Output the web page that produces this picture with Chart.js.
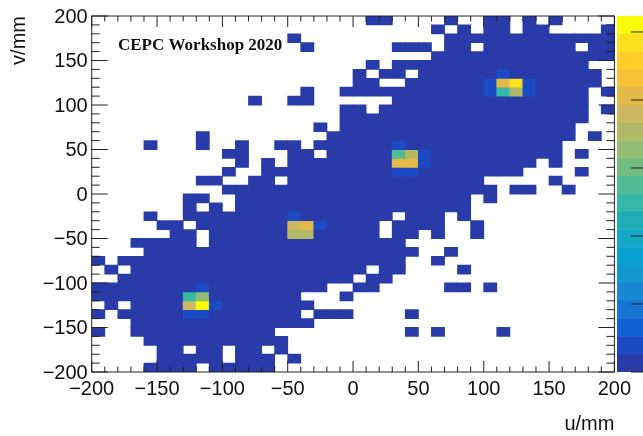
<!DOCTYPE html>
<html>
<head>
<meta charset="utf-8">
<style>
html,body{margin:0;padding:0;background:#fff;width:643px;height:436px;overflow:hidden}
canvas{position:absolute;top:0;display:block}
#main{left:0}
#bar{left:617px}
</style>
<script src="https://cdn.jsdelivr.net/npm/chart.js@4/dist/chart.umd.min.js"></script>
</head>
<body>
<canvas id="main" width="643" height="436"></canvas>
<canvas id="bar" width="26" height="436"></canvas>
<script>
// Histogram bins: 40 x 40, 10 mm wide, u from -200, v rows listed from the top (+200) down.
const uBins = Array.from({length:40},(_,i)=>-200+i*10);
const uMajor = [-200,-150,-100,-50,0,50,100,150,200];
const vMajor = [-200,-150,-100,-50,0,50,100,150,200];
const uMinor = uBins.concat([200]).filter(v=>v%50!==0);
const vMinor = uMinor;
// Occupied u-bin runs [first,last] of each v row (top row first).
const rowRuns = [
[[21,22],[27,27],[30,31],[33,33],[35,35]],
[[26,26],[28,28],[30,31],[33,34],[39,39]],
[[15,15],[27,39]],
[[16,16],[23,25],[27,28],[30,36],[38,39]],
[[26,39]],
[[21,21],[23,37]],
[[20,20],[22,23],[25,38]],
[[20,21],[24,38]],
[[16,16],[19,37],[39,39]],
[[12,12],[15,16],[23,37]],
[[19,20],[22,37],[39,39]],
[[19,37]],
[[17,17],[19,36]],
[[8,8],[18,36],[38,38]],
[[4,4],[8,8],[11,11],[14,15],[17,35]],
[[10,11],[15,16],[18,35],[37,37]],
[[11,11],[13,13],[15,33],[35,35]],
[[10,10],[13,32],[37,37]],
[[8,9],[12,13],[15,29],[35,35]],
[[10,30],[32,33],[36,36]],
[[7,8],[11,28],[30,30]],
[[7,7],[9,9],[11,28]],
[[4,4],[7,22],[24,26],[28,28]],
[[5,6],[8,21],[23,26],[29,29]],
[[6,7],[9,21],[23,24],[26,26],[29,29]],
[[3,7],[9,23]],
[[4,24],[27,27]],
[[0,0],[2,23],[26,26]],
[[1,1],[3,20],[22,23],[28,28]],
[[2,19],[21,22]],
[[0,17],[20,21],[27,28],[30,30]],
[[0,15],[19,19]],
[[1,1],[3,16]],
[[0,0],[2,15],[17,19],[24,24]],
[[3,16]],
[[0,0],[3,13],[24,24],[26,26],[31,31]],
[[4,14]],
[[5,6],[8,9],[11,12],[14,14]],
[[5,9],[11,13],[15,15]],
[[4,7],[9,13]]
];
const baseCount = 100;
// Hot spots: row index, u-bin index, count.
const hotRow = [30,31,31,32,32,32,33,33, 22,23,23,23,24,24, 14,15,15,15,16,16,16,17,17, 6,7,7,7,7,8,8,8,8];
const hotCol = [8,7,8,7,8,9,7,8, 15,15,16,17,15,16, 23,23,24,25,23,24,25,23,24, 31,30,31,32,33,30,31,32,33];
const hotCount = [400,2500,3250,3800,5200,400,400,400, 400,3800,4050,400,3500,3500, 400,2750,3500,400,4050,4050,400,400,400, 400,400,4050,4850,400,400,2500,3500,400];
// Colour bar
const zMax = 5235;
const zTicks = [0,1000,2000,3000,4000,5000];
const palette = ['#283ba8','#1a4bc4','#1060d8','#1675d2','#1a87d2','#1297cf','#0aa0cf','#14a7c6','#1eadb5','#33b9a5',
                 '#51bb95','#72bc83','#93bd73','#b1b967','#cdb75f','#e3ba47','#f6c136','#fecd28','#fde11e','#fbfa08'];
const levelColor = c => palette[Math.min(palette.length-1,Math.floor(c/(zMax/palette.length)))];

const counts = rowRuns.map(runs=>{
  const row = new Array(40).fill(null);
  runs.forEach(([a,b])=>{for(let i=a;i<=b;i++)row[i]=baseCount;});
  return row;
});
hotRow.forEach((r,i)=>{counts[r][hotCol[i]]=hotCount[i];});

const datasets = counts.map((row,r)=>({
  xAxisID:'xc',yAxisID:'y',grouped:false,barPercentage:1,categoryPercentage:1,
  borderWidth:0,inflateAmount:0.4,
  data:row.map(c=>c===null?null:[190-r*10,200-r*10]),
  backgroundColor:row.map(c=>c===null?'rgba(0,0,0,0)':levelColor(c))
}));

const frame = {
  id:'frame',
  afterDatasetsDraw(ch){
    const {ctx,chartArea:a,scales:{x,y}} = ch;
    ctx.save();
    ctx.strokeStyle='#222';ctx.lineWidth=1;
    const ln=(x0,y0,x1,y1)=>{ctx.beginPath();ctx.moveTo(x0,y0);ctx.lineTo(x1,y1);ctx.stroke();};
    uMajor.forEach(v=>{const p=x.getPixelForValue(v);ln(p,a.bottom,p,a.bottom-11);ln(p,a.top,p,a.top+11);});
    uMinor.forEach(v=>{const p=x.getPixelForValue(v);ln(p,a.bottom,p,a.bottom-5.5);ln(p,a.top,p,a.top+5.5);});
    vMajor.forEach(v=>{const p=y.getPixelForValue(v);ln(a.left,p,a.left+16,p);ln(a.right,p,a.right-16,p);});
    vMinor.forEach(v=>{const p=y.getPixelForValue(v);ln(a.left,p,a.left+8,p);ln(a.right,p,a.right-8,p);});
    ctx.strokeRect(a.left,a.top,a.right-a.left,a.bottom-a.top);
    ctx.fillStyle='#111';
    ctx.font='bold 17px "Liberation Serif"';
    ctx.textAlign='left';ctx.textBaseline='alphabetic';
    ctx.fillText('CEPC Workshop 2020',118,50);
    ctx.restore();
  }
};
const minus = v => String(v).replace('-','\u2212');
const font = {family:'"Liberation Sans"',size:20};

new Chart(document.getElementById('main'),{
  type:'bar',
  data:{labels:uBins.map(String),datasets},
  plugins:[frame],
  options:{
    responsive:false,animation:false,events:[],
    layout:{padding:{top:16,right:28.6,left:0,bottom:0}},
    plugins:{legend:{display:false},tooltip:{enabled:false},title:{display:false}},
    scales:{
      xc:{axis:'x',type:'category',display:false,offset:true,grid:{offset:true}},
      x:{type:'linear',position:'bottom',min:-200,max:200,offset:false,
         grid:{display:false,offset:false,drawTicks:false},border:{display:false},
         ticks:{stepSize:50,autoSkip:false,maxRotation:0,color:'#111',font,padding:5,callback:minus},
         title:{display:true,text:'u/mm',align:'end',color:'#111',font,padding:{top:17,bottom:0}},
         afterFit(s){s.height=64;s.paddingLeft=0;s.paddingRight=0;}},
      y:{type:'linear',position:'left',min:-200,max:200,beginAtZero:false,
         grid:{display:false,drawTicks:false},border:{display:false},
         ticks:{stepSize:50,autoSkip:false,color:'#111',font,padding:4,labelOffset:1,callback:minus},
         title:{display:true,text:'v/mm',align:'end',color:'#111',font,padding:{top:7,bottom:0}},
         afterFit(s){s.width=91.7;s.paddingTop=0;s.paddingBottom=0;}}
    }
  }
});

const barTicks = {
  id:'barTicks',
  afterDatasetsDraw(ch){
    const {ctx,chartArea:a,scales:{y}} = ch;
    ctx.save();ctx.strokeStyle='#222';ctx.lineWidth=1;
    zTicks.forEach(z=>{const p=y.getPixelForValue(z);ctx.beginPath();ctx.moveTo(a.right-12,p);ctx.lineTo(a.right,p);ctx.stroke();});
    ctx.restore();
  }
};
new Chart(document.getElementById('bar'),{
  type:'bar',
  data:{labels:['z'],datasets:palette.map((c,i)=>({
    grouped:false,barPercentage:1,categoryPercentage:1,borderWidth:0,inflateAmount:0.2,
    data:[[i*zMax/palette.length,(i+1)*zMax/palette.length]],backgroundColor:c
  }))},
  plugins:[barTicks],
  options:{
    responsive:false,animation:false,events:[],
    layout:{padding:{top:16,bottom:64,left:0,right:0}},
    plugins:{legend:{display:false},tooltip:{enabled:false}},
    scales:{x:{display:false},y:{display:false,min:0,max:zMax,beginAtZero:false}}
  }
});
</script>
</body>
</html>
